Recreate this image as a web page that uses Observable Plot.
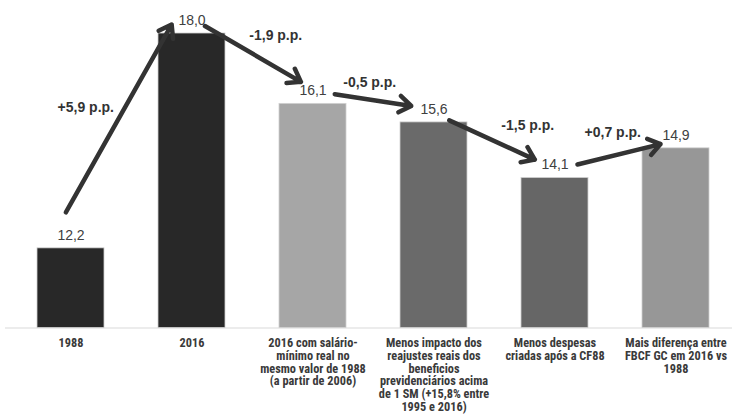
<!DOCTYPE html>
<html>
<head>
<meta charset="utf-8">
<script src="https://cdn.jsdelivr.net/npm/d3@7"></script>
<script src="https://cdn.jsdelivr.net/npm/@observablehq/plot@0.6"></script>
<style>
  html, body { margin: 0; padding: 0; background: #fff; }
  #chart svg { display: block; }
</style>
</head>
<body>
<div id="chart"></div>
<script>
// ---- data ----
const categories = [
  "1988",
  "2016",
  "2016 com salário-\nmínimo real no\nmesmo valor de 1988\n(a partir de 2006)",
  "Menos impacto dos\nreajustes reais dos\nbeneficios\nprevidenciários acima\nde 1 SM (+15,8% entre\n1995 e 2016)",
  "Menos despesas\ncriadas após a CF88",
  "Mais diferença entre\nFBCF GC em 2016 vs\n1988"
];
const values = [12.2, 18.0, 16.1, 15.6, 14.1, 14.9];
const valueLabels = ["12,2", "18,0", "16,1", "15,6", "14,1", "14,9"];
const changeLabels = ["+5,9 p.p.", "-1,9 p.p.", "-0,5 p.p.", "-1,5 p.p.", "+0,7 p.p."];
const barColors = ["#282828", "#282828", "#a6a6a6", "#6a6a6a", "#666666", "#979797"];

// ---- derived tables ----
const bars = categories.map((c, i) => ({cat: c, value: values[i], label: valueLabels[i], color: barColors[i]}));
const steps = changeLabels.map((t, i) => ({
  from: categories[i], to: categories[i + 1],
  v1: values[i], v2: values[i + 1],
  mid: (values[i] + values[i + 1]) / 2,
  text: t
}));

const yMin = 10.05;
const W = 734, H = 414;
const step = 121.5; // band step in px

// per-arrow layout tweaks (pixel offsets)
const arrowLayout = [
  {dx: -13, dy: -22, s: 16, e: 15},
  {dx: 0, dy: -15, s: 15, e: 14},
  {dx: 0, dy: -13, s: 22, e: 23},
  {dx: -2, dy: -10, s: 19, e: 20},
  {dx: 4, dy: -9, s: 19, e: 20}
];
const labelLayout = [
  {dx: -46, dy: -33},
  {dx: 23, dy: -33},
  {dx: -4, dy: -31},
  {dx: 33, dy: -25},
  {dx: -3, dy: -31}
];

const sans = "Liberation Sans, Arial, sans-serif";
const marks = [
  Plot.ruleY([yMin], {stroke: "#d9d9d9", strokeWidth: 1.2, insetLeft: -8}),
  Plot.barY(bars, {x: "cat", y1: yMin, y2: "value", fill: "color", stroke: "#d0d0d0", strokeWidth: 0.8}),
  Plot.text(bars, {x: "cat", y: "value", text: "label", dy: -13, fill: "#404040",
    fontSize: 14, fontFamily: sans}),
  Plot.axisX({tickSize: 0, tickPadding: 10, lineAnchor: "top", lineHeight: 1.04,
    fontSize: 12.3, fontWeight: "bold", fill: "#3a3a3a",
    fontFamily: "Roboto Condensed, Liberation Sans, sans-serif",
    label: null})
];

steps.forEach((d, i) => {
  const a = arrowLayout[i];
  marks.push(Plot.arrow([d], {
    x1: "from", y1: "v1", x2: "to", y2: "v2",
    dx: a.dx, dy: a.dy, insetStart: a.s, insetEnd: a.e,
    stroke: "#333333", strokeWidth: 4.5, headLength: 4.8, headAngle: 70
  }));
  const l = labelLayout[i];
  marks.push(Plot.text([d], {
    x: "from", y: "mid", text: "text",
    dx: step / 2 + l.dx, dy: l.dy,
    fill: "#333333", fontWeight: "bold", fontSize: 14,
    fontFamily: sans
  }));
});

const chart = Plot.plot({
  width: W,
  height: H,
  marginLeft: 13,
  marginRight: 2,
  marginTop: 33,
  marginBottom: 86.5,
  x: {domain: categories, paddingInner: 0.449, paddingOuter: 0.18, axis: null},
  y: {domain: [yMin, 18], axis: null},
  style: {background: "#fff", overflow: "visible"},
  marks
});
document.getElementById("chart").appendChild(chart);
</script>
</body>
</html>
